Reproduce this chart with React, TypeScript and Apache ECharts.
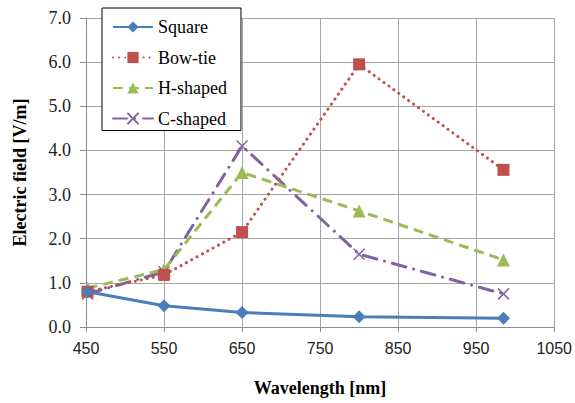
import React, { useEffect, useRef } from "react";
import * as echarts from "echarts";

const wavelengths = [452, 550, 650, 800, 985];
const squareVals = [0.8, 0.48, 0.33, 0.23, 0.2];
const bowtieVals = [0.8, 1.18, 2.15, 5.95, 3.56];
const hshapedVals = [0.88, 1.3, 3.5, 2.63, 1.52];
const cshapedVals = [0.75, 1.25, 4.1, 1.65, 0.75];
const seriesNames = ["Square", "Bow-tie", "H-shaped", "C-shaped"];

const pair = (vals: number[]) => wavelengths.map((w, i) => [w, vals[i]]);

export default function App() {
  const ref = useRef<HTMLDivElement>(null);
  useEffect(() => {
    if (!ref.current) return;
    const chart = echarts.init(ref.current, undefined, { renderer: "svg" });
    const serif = "Liberation Serif";
    const sans = "Liberation Sans";
    const txt = (family: string, size: number, bold = false) => ({
      fontFamily: family,
      fontSize: size,
      fontWeight: bold ? "bold" : "normal",
      color: "#000",
    });
    chart.setOption({
      animation: false,
      backgroundColor: "#fff",
      textStyle: { fontFamily: serif },
      grid: { left: 86, right: 18, top: 18, bottom: 76 },
      legend: {
        orient: "vertical",
        left: 102,
        top: 8,
        padding: [10, 14, 3, 10],
        itemWidth: 40,
        itemHeight: 14,
        itemGap: 12.5,
        backgroundColor: "#fff",
        borderColor: "#000",
        borderWidth: 1,
        textStyle: txt(serif, 18),
        data: seriesNames,
      },
      xAxis: {
        type: "value",
        min: 450,
        max: 1050,
        interval: 100,
        name: "Wavelength [nm]",
        nameLocation: "middle",
        nameGap: 52,
        nameTextStyle: txt(serif, 18, true),
        axisLine: { lineStyle: { color: "#8c8c8c", width: 1 } },
        axisTick: { show: true, length: 5, lineStyle: { color: "#8c8c8c" } },
        axisLabel: {
          ...txt(sans, 16),
          color: "#222",
          margin: 13,
          formatter: (v: number) => String(v),
        },
        splitLine: { show: true, lineStyle: { color: "#a6a6a6", width: 1 } },
      },
      yAxis: {
        type: "value",
        min: 0,
        max: 7,
        interval: 1,
        name: "Electric field [V/m]",
        nameLocation: "middle",
        nameGap: 57,
        nameTextStyle: txt(serif, 18, true),
        axisLine: { show: true, lineStyle: { color: "#8c8c8c", width: 1 } },
        axisTick: { show: true, length: 6, lineStyle: { color: "#8c8c8c" } },
        axisLabel: {
          ...txt(serif, 18),
          color: "#222",
          margin: 15,
          formatter: (v: number) => v.toFixed(1),
        },
        splitLine: { show: true, lineStyle: { color: "#a6a6a6", width: 1 } },
      },
      series: [
        {
          name: seriesNames[0],
          type: "line",
          data: pair(squareVals),
          symbol: "diamond",
          symbolSize: 13,
          color: "#4a7ebb",
          lineStyle: { width: 3, color: "#4a7ebb" },
          itemStyle: { color: "#4a7ebb" },
          z: 5,
        },
        {
          name: seriesNames[1],
          type: "line",
          data: pair(bowtieVals),
          symbol: "rect",
          symbolSize: 12,
          color: "#c0504d",
          lineStyle: { width: 3, color: "#c0504d", type: [0.1, 6], cap: "round" },
          itemStyle: { color: "#c0504d" },
          z: 4,
        },
        {
          name: seriesNames[2],
          type: "line",
          data: pair(hshapedVals),
          symbol: "triangle",
          symbolSize: 13,
          color: "#9bbb59",
          lineStyle: { width: 3, color: "#9bbb59", type: [10, 6] },
          itemStyle: { color: "#9bbb59" },
          z: 3,
        },
        {
          name: seriesNames[3],
          type: "line",
          data: pair(cshapedVals),
          symbol: "path://M0,0 L10,10 M10,0 L0,10",
          symbolSize: 11,
          color: "#8064a2",
          lineStyle: { width: 3, color: "#8064a2", type: [14, 8, 0.1, 8], cap: "round" },
          itemStyle: { color: "transparent", borderColor: "#8064a2", borderWidth: 1.5 },
          z: 2,
        },
      ],
    });
    return () => chart.dispose();
  }, []);
  return <div ref={ref} style={{ width: 575, height: 403, position: "absolute", left: 0, top: 0 }} />;
}
